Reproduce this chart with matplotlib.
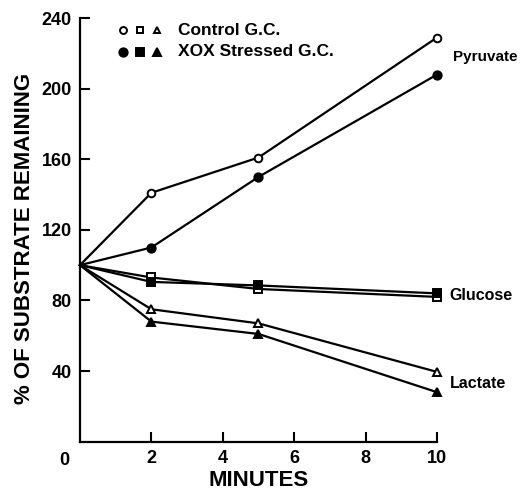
import matplotlib
matplotlib.use("Agg")
import matplotlib.pyplot as plt

plt.rcParams['font.family'] = ['Liberation Sans', 'DejaVu Sans']

minutes = [0, 2, 5, 10]
pyruvate_control = [100, 141, 161, 229]
pyruvate_stressed = [100, 110, 150, 208]
glucose_control = [100, 93, 86.5, 82]
glucose_stressed = [100, 90.5, 88.5, 84]
lactate_control = [100, 75, 67, 39.5]
lactate_stressed = [100, 68, 61, 28]

xticks = [2, 4, 6, 8, 10]
yticks = [40, 80, 120, 160, 200, 240]

fig = plt.figure(figsize=(5.2, 4.9), dpi=100)
ax = fig.add_axes([0.1538, 0.0988, 0.6866, 0.8642])

lw = 1.6
series = [
    (pyruvate_control, 'o', 'white', 5.5),
    (pyruvate_stressed, 'o', 'black', 6),
    (glucose_control, 's', 'white', 5.5),
    (glucose_stressed, 's', 'black', 6),
    (lactate_control, '^', 'white', 5.5),
    (lactate_stressed, '^', 'black', 6),
]
for vals, m, fc, ms in series:
    ax.plot(minutes, vals, color='black', lw=lw, marker=m, ms=ms,
            markevery=[1, 2, 3], mfc=fc, mec='black', mew=1.4,
            clip_on=False, zorder=3)

ax.set_xlim(0, 10)
ax.set_ylim(0, 240)
ax.set_xticks(xticks)
ax.set_yticks(yticks)
ax.tick_params(direction='in', length=7, width=1.5, labelsize=13, pad=6)
for lab in ax.get_xticklabels() + ax.get_yticklabels():
    lab.set_fontweight('bold')
ax.spines['top'].set_visible(False)
ax.spines['right'].set_visible(False)
ax.spines['left'].set_linewidth(1.6)
ax.spines['bottom'].set_linewidth(1.6)

ax.text(-0.45, -6, '0', ha='center', va='top', fontsize=13, fontweight='bold')
ax.set_xlabel('MINUTES', fontsize=16, fontweight='bold', labelpad=2)
ax.set_ylabel('% OF SUBSTRATE REMAINING', fontsize=16, fontweight='bold')
ax.yaxis.set_label_coords(-0.125, 0.48)

ax.text(10.45, 218, 'Pyruvate', fontsize=11, fontweight='bold', va='center', ha='left')
ax.text(10.35, 83, 'Glucose', fontsize=11.5, fontweight='bold', va='center', ha='left')
ax.text(10.35, 33, 'Lactate', fontsize=11.5, fontweight='bold', va='center', ha='left')

# legend
leg_rows = [
    (['o', 's', '^'], 'white', 'Control G.C.', 233),
    (['o', 's', '^'], 'black', 'XOX Stressed G.C.', 221),
]
for marks, fc, label, yy in leg_rows:
    for i, m in enumerate(marks):
        ax.plot(1.2 + i * 0.48, yy, marker=m, ms=6 if fc == 'black' else 5,
                mfc=fc, mec='black', mew=1.4, ls='none', clip_on=False)
    ax.text(2.75, yy, label, fontsize=12.5, fontweight='bold', va='center', ha='left')

fig.savefig('out.png', dpi=100)
